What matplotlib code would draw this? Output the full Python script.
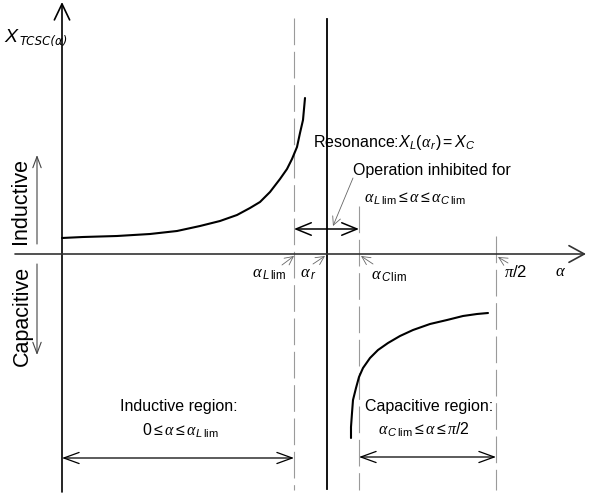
import matplotlib.pyplot as plt

# --- fonts: sans text, serif italic greek like the original drawing ---
plt.rcParams['font.family'] = ['Liberation Sans', 'DejaVu Sans']
plt.rcParams['mathtext.fontset'] = 'custom'
plt.rcParams['mathtext.rm'] = 'Liberation Sans'
plt.rcParams['mathtext.sf'] = 'Liberation Sans:italic'
plt.rcParams['mathtext.it'] = 'Liberation Serif:italic'

# --- data (drawing units = image pixels, y down) ---
origin_x = 62
axis_y = 254

# inductive branch: X_TCSC rises towards resonance
ind_x = [62, 83, 117, 150, 177, 200, 220, 237, 250, 260, 270, 280, 287, 292, 297, 300, 303, 305]
ind_y = [238, 237, 236, 234, 231, 226, 221, 215, 208, 202, 192, 179, 169, 159, 147, 133, 120, 98]

# capacitive branch: X_TCSC comes up from -inf after resonance
cap_x = [351, 351, 352, 353, 356, 359, 363, 370, 378, 388, 400, 413, 430, 447, 463, 477, 488]
cap_y = [438, 427, 413, 400, 388, 377, 368, 358, 350, 343, 336, 330, 324, 320, 316, 314, 313]

# positions of the firing-angle markers along the alpha axis
alpha_L_lim = 294
alpha_r = 327
alpha_C_lim = 359
alpha_half_pi = 496

tick_labels = [r'$\alpha_{\,\mathsf{L}\,\mathrm{lim}}$', r'$\alpha_{\,\mathsf{r}}$',
               r'$\alpha_{\,\mathsf{C}\,\mathrm{lim}}$', r'$\pi\mathrm{/2}$']
tick_label_x = [252, 300, 371, 504]
tick_label_y = [274, 274, 276, 272]
pointer_from = [(282, 265), (313, 264), (373, 264), (508, 263)]
pointer_to = [(294, 256), (325, 256), (361, 256), (498, 257)]

fig = plt.figure(figsize=(5.91, 5.00), dpi=100)
ax = fig.add_axes([0, 0, 1, 1])
ax.set_xlim(0, 591)
ax.set_ylim(500, 0)
ax.axis('off')

# --- axes with open arrow heads ---
ax.annotate('', xy=(origin_x, 2), xytext=(origin_x, 492),
            arrowprops=dict(arrowstyle='->,head_length=1.15,head_width=0.55',
                            lw=1.2, color='black', mutation_scale=10,
                            shrinkA=0, shrinkB=0))
ax.annotate('', xy=(586, axis_y), xytext=(15, axis_y),
            arrowprops=dict(arrowstyle='->,head_length=1.1,head_width=0.6',
                            lw=1.2, color='#333333', mutation_scale=10,
                            shrinkA=0, shrinkB=0))

# --- resonance line and limit lines ---
ax.plot([alpha_r, alpha_r], [19, 489], color='black', lw=1.3)
dash = (0, (24, 6))
ax.plot([alpha_L_lim, alpha_L_lim], [18, 490], color='#9a9a9a', lw=0.8, linestyle=dash)
ax.plot([alpha_C_lim, alpha_C_lim], [206, 490], color='#9a9a9a', lw=0.8, linestyle=dash)
ax.plot([alpha_half_pi, alpha_half_pi], [236, 490], color='#9a9a9a', lw=0.8, linestyle=dash)

# --- reactance curves ---
ax.plot(ind_x, ind_y, color='black', lw=1.5, solid_capstyle='round', solid_joinstyle='round')
ax.plot(cap_x, cap_y, color='black', lw=1.5, solid_capstyle='round', solid_joinstyle='round')

# --- labels on the alpha axis ---
for lab, lx, ly in zip(tick_labels, tick_label_x, tick_label_y):
    ax.text(lx, ly, lab, fontsize=12, ha='left', va='center')
ax.text(555, 272, r'$\alpha$', fontsize=12, ha='left', va='center')
for p0, p1 in zip(pointer_from, pointer_to):
    ax.annotate('', xy=p1, xytext=p0,
                arrowprops=dict(arrowstyle='->,head_length=0.6,head_width=0.3',
                                lw=0.6, color='#666666', mutation_scale=10,
                                shrinkA=0, shrinkB=0))

# --- y label ---
ax.text(4, 38, r'$\mathsf{X}$', fontsize=14, ha='left', va='center')
ax.text(19, 42, 'TCSC(α)', fontsize=8.5, style='italic', ha='left', va='center',
        family='DejaVu Sans')

# --- Inductive / Capacitive side labels ---
ax.text(21, 201, 'Inductive', fontsize=15.5, rotation=90, ha='center', va='center')
ax.text(22, 316, 'Capacitive', fontsize=15.5, rotation=90, ha='center', va='center')
ax.annotate('', xy=(37, 155), xytext=(37, 244),
            arrowprops=dict(arrowstyle='->,head_length=0.8,head_width=0.3',
                            lw=0.8, color='#444444', mutation_scale=10,
                            shrinkA=0, shrinkB=0))
ax.annotate('', xy=(37, 355), xytext=(37, 264),
            arrowprops=dict(arrowstyle='->,head_length=0.8,head_width=0.3',
                            lw=0.8, color='#444444', mutation_scale=10,
                            shrinkA=0, shrinkB=0))

# --- resonance / inhibited zone annotations ---
ax.text(313, 142, r'Resonance:$\mathsf{X}_{\mathsf{L}}(\alpha_{\,\mathsf{r}})=\mathsf{X}_{\mathsf{C}}$',
        fontsize=11.5, ha='left', va='center')
ax.text(353, 170, 'Operation inhibited for', fontsize=11.5, ha='left', va='center')
ax.text(364, 199, r'$\alpha_{\,\mathsf{L}\,\mathrm{lim}}\leq\alpha\leq\alpha_{\,\mathsf{C}\,\mathrm{lim}}$',
        fontsize=11.5, ha='left', va='center')
ax.annotate('', xy=(333, 226), xytext=(353, 178),
            arrowprops=dict(arrowstyle='->,head_length=0.6,head_width=0.3',
                            lw=0.6, color='#666666', mutation_scale=10,
                            shrinkA=0, shrinkB=0))
ax.annotate('', xy=(alpha_L_lim, 229), xytext=(alpha_C_lim, 229),
            arrowprops=dict(arrowstyle='<->,head_length=1.1,head_width=0.45',
                            lw=1.1, color='black', mutation_scale=10,
                            shrinkA=0, shrinkB=0))

# --- operating regions ---
ax.text(179, 407, 'Inductive region:', fontsize=11.5, ha='center', va='center')
ax.text(180, 431, r'$\mathrm{0}\leq\alpha\leq\alpha_{\,\mathsf{L}\,\mathrm{lim}}$',
        fontsize=11.5, ha='center', va='center')
ax.annotate('', xy=(origin_x, 458), xytext=(alpha_L_lim, 458),
            arrowprops=dict(arrowstyle='<->,head_length=1.1,head_width=0.4',
                            lw=0.9, color='black', mutation_scale=10,
                            shrinkA=0, shrinkB=0))
ax.text(429, 407, 'Capacitive region:', fontsize=11.5, ha='center', va='center')
ax.text(424, 430, r'$\alpha_{\,\mathsf{C}\,\mathrm{lim}}\leq\alpha\leq\pi\mathrm{/2}$',
        fontsize=11.5, ha='center', va='center')
ax.annotate('', xy=(alpha_C_lim, 457), xytext=(alpha_half_pi, 457),
            arrowprops=dict(arrowstyle='<->,head_length=1.1,head_width=0.4',
                            lw=0.9, color='black', mutation_scale=10,
                            shrinkA=0, shrinkB=0))

fig.savefig('out.png', dpi=100)
